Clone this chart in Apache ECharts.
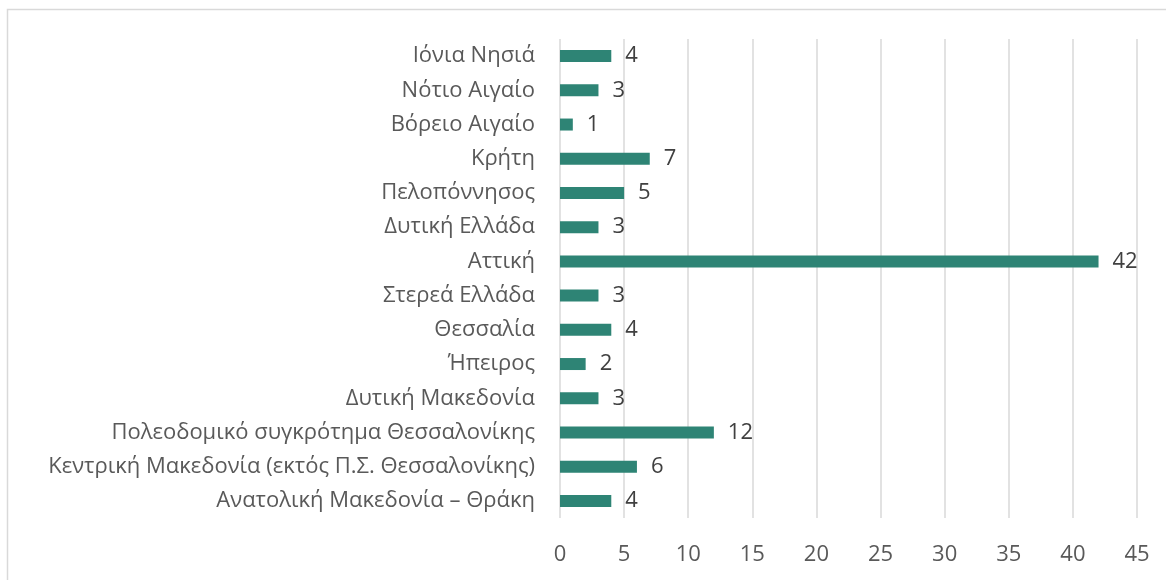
<!DOCTYPE html>
<html>
<head>
<meta charset="utf-8">
<script src="https://cdn.jsdelivr.net/npm/echarts@6/dist/echarts.min.js"></script>
<style>
  html, body { margin: 0; padding: 0; background: #fff; }
  #main { width: 1166px; height: 580px; }
</style>
</head>
<body>
<div id="main"></div>
<script>
// regions, bottom to top (as drawn)
var regions = [
  'Ανατολική Μακεδονία – Θράκη',
  'Κεντρική Μακεδονία (εκτός Π.Σ. Θεσσαλονίκης)',
  'Πολεοδομικό συγκρότημα Θεσσαλονίκης',
  'Δυτική Μακεδονία',
  'Ήπειρος',
  'Θεσσαλία',
  'Στερεά Ελλάδα',
  'Αττική',
  'Δυτική Ελλάδα',
  'Πελοπόννησος',
  'Κρήτη',
  'Βόρειο Αιγαίο',
  'Νότιο Αιγαίο',
  'Ιόνια Νησιά'
];
var counts = [4, 6, 12, 3, 2, 4, 3, 42, 3, 5, 7, 1, 3, 4];

var font = '"Open Sans", "Noto Sans", sans-serif';
var chart = echarts.init(document.getElementById('main'));
chart.setOption({
  backgroundColor: '#fff',
  animation: false,
  graphic: [{
    type: 'rect',
    shape: { x: 7.5, y: 9.5, width: 1170, height: 590 },
    style: { fill: 'none', stroke: '#d9d9d9', lineWidth: 1.5 }
  }],
  grid: { left: 560, right: 29, top: 39, bottom: 62 },
  xAxis: {
    type: 'value',
    min: 0, max: 45, interval: 5,
    axisLine: { show: false },
    axisTick: { show: false },
    splitLine: { lineStyle: { color: '#d9d9d9', width: 1.5 } },
    axisLabel: { color: '#595959', fontSize: 22, fontFamily: font, margin: 26 }
  },
  yAxis: {
    type: 'category',
    data: regions,
    axisLine: { show: false },
    axisTick: { show: false },
    axisLabel: { color: '#595959', fontSize: 22, fontFamily: font, margin: 25 }
  },
  series: [{
    type: 'bar',
    data: counts,
    barWidth: 12,
    itemStyle: { color: '#2e8475' },
    label: {
      show: true, position: 'right', distance: 14,
      color: '#404040', fontSize: 22, fontFamily: font
    }
  }]
});
</script>
</body>
</html>
